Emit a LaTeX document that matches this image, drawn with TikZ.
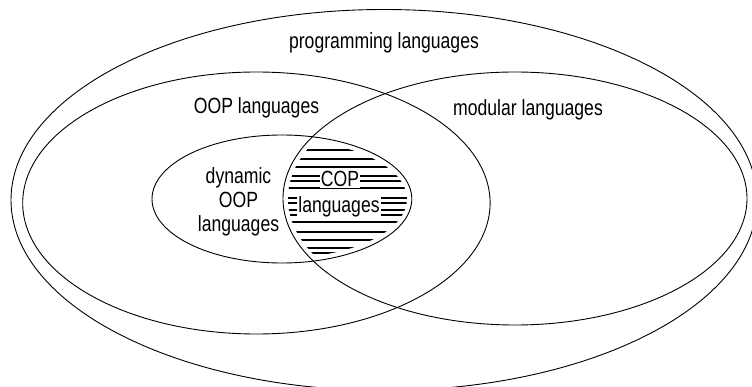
\documentclass[tikz,border=0pt]{standalone}
\usepackage{fontspec}
\setmainfont{Liberation Sans}[FakeStretch=0.8]

\begin{document}
\begin{tikzpicture}[x=1pt,y=-1pt,
  every node/.style={font=\fontsize{22}{24}\selectfont,inner sep=1pt,align=center},
  set/.style={line width=0.9pt},
  hatch/.style={line width=1.4pt}]
\useasboundingbox (0,0) rectangle (752,387);
% the four sets
\draw[set] (384,200) ellipse [x radius=373pt,y radius=190.5pt];
\draw[set] (256.4,203) ellipse [x radius=233.7pt,y radius=131pt];
\draw[set] (515,198.5) ellipse [x radius=232pt,y radius=126.5pt];
\draw[set] (281.9,199) ellipse [x radius=129.9pt,y radius=64pt];
% hatching of the overlap
\begin{scope}
\clip (281.9,199) ellipse [x radius=125pt,y radius=59pt];
\clip (515,198.5) ellipse [x radius=227pt,y radius=121.5pt];
\foreach \hy in {150,159,167,176,181,188,198,203,210,215,222,232,240,248,253}
  \draw[hatch] (280,\hy) -- (420,\hy);
\end{scope}
% labels
\node[anchor=base] (prog) at (384,49) {programming languages};
\node[anchor=base] (oop) at (256.5,113.3) {OOP languages};
\node[anchor=base] (modular) at (528,115.3) {modular languages};
\node (dynamic) at (238.5,201.8) {dynamic\\OOP\\languages};
\node[anchor=base,fill=white] (cop) at (340,186.7) {COP};
\node[anchor=base,fill=white] (coplang) at (339,213) {languages};
\end{tikzpicture}
\end{document}
